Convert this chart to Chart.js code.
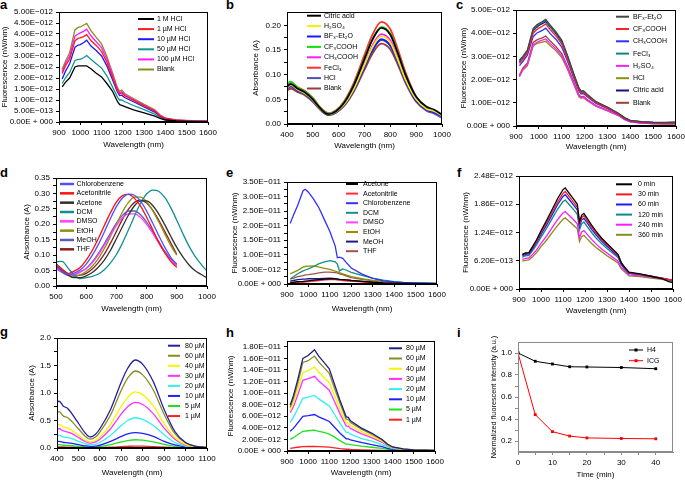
<!DOCTYPE html>
<html><head><meta charset="utf-8">
<script src="https://cdn.jsdelivr.net/npm/chart.js@4.4.1/dist/chart.umd.min.js"></script>
<style>
html,body{margin:0;padding:0;background:#fff}
body{width:685px;height:480px;overflow:hidden;position:relative;font-family:"Liberation Sans",Arial,sans-serif}
canvas{position:absolute}
.lbl{position:absolute;font-weight:bold;font-size:13px;line-height:13px;color:#000}
</style></head><body>
<div class="lbl" style="left:0px;top:-2px">a</div>
<div class="lbl" style="left:226px;top:-2px">b</div>
<div class="lbl" style="left:456px;top:-2px">c</div>
<div class="lbl" style="left:0px;top:166px">d</div>
<div class="lbl" style="left:226px;top:166px">e</div>
<div class="lbl" style="left:457px;top:166px">f</div>
<div class="lbl" style="left:0px;top:325px">g</div>
<div class="lbl" style="left:226px;top:326px">h</div>
<div class="lbl" style="left:457px;top:326px">i</div>
<script>
// ---------- Panel a (fluorescence, unit 1e-12 nW/nm) ----------
const aX = [915,930,950,975,990,1000,1015,1030,1050,1075,1100,1125,1150,1175,1185,1195,1210,1250,1300,1350,1375,1400,1450,1500,1550,1600];
const a1M   = [1.60,1.80,2.00,2.50,2.55,2.55,2.55,2.55,2.42,2.22,2.05,1.75,1.42,0.92,0.79,0.76,0.70,0.55,0.41,0.27,0.16,0.09,0.05,0.03,0.02,0.02];
const a1uM  = [2.20,2.55,2.85,3.70,3.80,3.82,3.88,3.97,3.70,3.48,3.20,2.72,2.08,1.42,1.28,1.32,1.18,0.98,0.73,0.50,0.28,0.16,0.08,0.05,0.04,0.03];
const a10uM = [1.95,2.30,2.65,3.40,3.50,3.52,3.60,3.72,3.45,3.25,3.00,2.55,1.95,1.35,1.20,1.22,1.10,0.92,0.68,0.45,0.25,0.14,0.07,0.04,0.03,0.03];
const a50uM = [1.75,2.00,2.25,2.80,2.85,2.85,2.92,3.02,2.85,2.65,2.45,2.10,1.62,1.12,1.00,1.00,0.92,0.75,0.56,0.36,0.20,0.11,0.06,0.04,0.03,0.02];
const a100uM= [2.30,2.65,3.00,3.90,4.00,4.05,4.12,4.22,3.92,3.65,3.38,2.85,2.18,1.48,1.33,1.38,1.22,1.02,0.76,0.52,0.30,0.17,0.09,0.06,0.05,0.04];
const aBlank= [2.40,2.75,3.15,4.20,4.30,4.32,4.40,4.48,4.15,3.85,3.55,2.98,2.28,1.55,1.40,1.45,1.28,1.07,0.80,0.55,0.32,0.18,0.10,0.07,0.05,0.05];
const aXTicks = [900,1000,1100,1200,1300,1400,1500,1600];
const aYTicks = [0,0.5,1,1.5,2,2.5,3,3.5,4,4.5,5];
const aYLabels = ['0.00E + 000','5.00E\u2212013','1.00E\u2212012','1.50E\u2212012','2.00E\u2212012','2.50E\u2212012','3.00E\u2212012','3.50E\u2212012','4.00E\u2212012','4.50E\u2212012','5.00E\u2212012'];

// ---------- Panel b (absorbance) ----------
const bX = [400,415,440,470,500,530,560,590,620,660,700,730,765,800,830,860,900,940,970,1000];
const bCitric = [0.076,0.081,0.072,0.064,0.050,0.031,0.020,0.026,0.042,0.080,0.132,0.170,0.195,0.181,0.142,0.098,0.055,0.035,0.029,0.019];
const bH2SO4  = [0.074,0.079,0.070,0.062,0.049,0.030,0.020,0.025,0.039,0.073,0.120,0.155,0.178,0.165,0.129,0.089,0.050,0.031,0.026,0.017];
const bBF3    = [0.073,0.077,0.068,0.061,0.048,0.030,0.019,0.024,0.038,0.071,0.116,0.149,0.172,0.159,0.125,0.086,0.047,0.029,0.023,0.015];
const bCF3    = [0.082,0.086,0.074,0.066,0.052,0.032,0.021,0.027,0.043,0.081,0.133,0.171,0.197,0.183,0.143,0.098,0.053,0.031,0.023,0.014];
const bCH3    = [0.078,0.083,0.072,0.064,0.050,0.031,0.020,0.025,0.040,0.075,0.123,0.158,0.182,0.169,0.132,0.091,0.049,0.029,0.022,0.013];
const bFeCl3  = [0.080,0.085,0.075,0.067,0.053,0.033,0.022,0.028,0.045,0.085,0.140,0.180,0.207,0.192,0.150,0.103,0.055,0.032,0.025,0.015];
const bHCl    = [0.072,0.076,0.068,0.060,0.047,0.029,0.019,0.024,0.037,0.070,0.115,0.148,0.170,0.158,0.124,0.085,0.047,0.028,0.022,0.013];
const bBlank  = [0.068,0.072,0.065,0.058,0.045,0.028,0.018,0.023,0.036,0.067,0.110,0.142,0.163,0.151,0.119,0.082,0.045,0.027,0.021,0.012];
const bXTicks = [400,500,600,700,800,900,1000];
const bYTicks = [0,0.025,0.05,0.075,0.1,0.125,0.15,0.175,0.2];
const bYLabels = ['0.00','','0.05','','0.10','','0.15','','0.20'];

// ---------- Panel c (fluorescence, unit 1e-12) ----------
const cX = aX;
const cBF3    = [2.85,3.00,3.28,4.20,4.35,4.42,4.50,4.60,4.35,4.06,3.70,3.05,2.33,1.65,1.50,1.52,1.38,1.05,0.82,0.54,0.36,0.24,0.19,0.16,0.15,0.17];
const cCF3    = [2.70,2.88,3.15,4.00,4.15,4.22,4.30,4.40,4.15,3.88,3.53,2.92,2.22,1.57,1.43,1.45,1.31,1.00,0.77,0.51,0.33,0.22,0.17,0.14,0.13,0.14];
const cCH3    = [2.60,2.78,3.05,3.85,4.00,4.05,4.12,4.22,3.98,3.73,3.40,2.80,2.14,1.51,1.38,1.40,1.27,0.97,0.75,0.50,0.32,0.21,0.16,0.13,0.12,0.13];
const cFeCl3  = [2.80,2.97,3.25,4.15,4.30,4.38,4.46,4.55,4.30,4.02,3.66,3.02,2.30,1.62,1.48,1.50,1.36,1.03,0.80,0.53,0.35,0.23,0.18,0.15,0.14,0.16];
const cH2SO4  = [2.15,2.45,2.65,3.50,3.60,3.65,3.70,3.75,3.55,3.32,3.02,2.50,1.90,1.30,1.22,1.25,1.12,0.86,0.66,0.45,0.28,0.18,0.12,0.10,0.09,0.09];
const cHCl    = [2.12,2.40,2.60,3.45,3.55,3.58,3.62,3.65,3.46,3.24,2.95,2.45,1.85,1.26,1.19,1.22,1.10,0.85,0.65,0.44,0.27,0.18,0.12,0.10,0.09,0.09];
const cCitric = [2.75,2.92,3.20,4.10,4.25,4.33,4.41,4.50,4.26,3.98,3.62,2.98,2.27,1.60,1.46,1.48,1.34,1.02,0.79,0.52,0.34,0.23,0.18,0.15,0.14,0.15];
const cBlank  = [2.20,2.50,2.72,3.60,3.70,3.75,3.80,3.88,3.66,3.42,3.12,2.58,1.96,1.35,1.25,1.28,1.15,0.88,0.68,0.46,0.29,0.19,0.13,0.10,0.09,0.09];
const cXTicks = aXTicks;
const cYTicks = [0,1,2,3,4,5];
const cYLabels = ['0.00E + 000','1.00E\u2212012','2.00E\u2212012','3.00E\u2212012','4.00E\u2212012','5.00E\u2212012'];

// ---------- Panel d (absorbance in solvents) ----------
const dX  = [500,520,540,560,580,600,620,640,660,680,700,720,740,760,780,800,820,840,860,880,900];
const dXL = [500,520,540,560,580,600,620,640,660,680,700,720,740,760,780,800,820,840,860,880,900,920,940,960,980,1000];
const dChloro = [0.062,0.048,0.038,0.042,0.052,0.071,0.099,0.134,0.175,0.218,0.257,0.285,0.298,0.294,0.275,0.243,0.204,0.164,0.126,0.093,0.069];
const dAcnit  = [0.068,0.053,0.040,0.048,0.060,0.084,0.115,0.153,0.196,0.237,0.272,0.293,0.297,0.284,0.259,0.223,0.183,0.143,0.108,0.080,0.060];
const dAceton = [0.065,0.048,0.035,0.027,0.027,0.033,0.044,0.061,0.084,0.115,0.153,0.192,0.230,0.260,0.276,0.276,0.261,0.234,0.199,0.161,0.125,0.094,0.069,0.050,0.038,0.026];
const dDCM    = [0.078,0.080,0.058,0.036,0.024,0.027,0.031,0.039,0.053,0.074,0.102,0.139,0.182,0.227,0.268,0.298,0.311,0.307,0.287,0.254,0.213,0.170,0.130,0.097,0.071,0.048];
const dDMSO   = [0.058,0.045,0.036,0.036,0.045,0.056,0.075,0.101,0.132,0.165,0.196,0.221,0.234,0.234,0.222,0.200,0.171,0.139,0.109,0.083,0.066];
const dEtOH   = [0.070,0.052,0.038,0.033,0.036,0.047,0.064,0.089,0.121,0.160,0.201,0.240,0.271,0.288,0.288,0.273,0.244,0.208,0.169,0.131,0.100];
const dMeOH   = [0.056,0.044,0.035,0.036,0.046,0.057,0.078,0.105,0.137,0.171,0.204,0.229,0.243,0.243,0.231,0.207,0.177,0.144,0.113,0.088,0.072];
const dTHF    = [0.072,0.055,0.040,0.032,0.035,0.041,0.055,0.076,0.103,0.138,0.177,0.216,0.249,0.271,0.278,0.269,0.246,0.214,0.177,0.140,0.102];
const dXTicks = [500,600,700,800,900,1000];
const dYTicks = [0,0.025,0.05,0.075,0.1,0.125,0.15,0.175,0.2,0.225,0.25,0.275,0.3,0.325,0.35];
const dYLabels = ['0.00','','0.05','','0.10','','0.15','','0.20','','0.25','','0.30','','0.35'];

// ---------- Panel e (fluorescence in solvents, unit 1e-11) ----------
const eX = [915,930,950,975,985,1000,1025,1050,1075,1100,1125,1135,1145,1160,1175,1200,1250,1300,1350,1400,1450,1500,1600];
const eAceton = [0.05,0.06,0.08,0.09,0.10,0.11,0.13,0.15,0.17,0.18,0.18,0.17,0.16,0.15,0.14,0.12,0.09,0.06,0.04,0.03,0.02,0.015,0.01];
const eAcnit  = [0.03,0.04,0.05,0.06,0.07,0.08,0.10,0.12,0.14,0.15,0.15,0.14,0.13,0.12,0.11,0.10,0.07,0.05,0.03,0.02,0.015,0.01,0.01];
const eChloro = [2.08,2.36,2.70,3.20,3.25,3.15,2.90,2.60,2.20,1.80,1.30,0.90,0.92,0.88,0.75,0.55,0.34,0.19,0.11,0.07,0.05,0.035,0.02];
const eDCM    = [0.18,0.25,0.35,0.45,0.48,0.52,0.60,0.70,0.76,0.80,0.76,0.68,0.45,0.52,0.48,0.40,0.30,0.20,0.13,0.08,0.05,0.035,0.02];
const eDMSO   = [0.04,0.05,0.06,0.07,0.08,0.09,0.11,0.13,0.15,0.16,0.16,0.15,0.14,0.13,0.12,0.11,0.08,0.05,0.035,0.025,0.015,0.01,0.01];
const eEtOH   = [0.35,0.40,0.47,0.58,0.60,0.61,0.62,0.58,0.54,0.50,0.44,0.42,0.39,0.35,0.31,0.25,0.18,0.12,0.08,0.05,0.035,0.025,0.015];
const eMeOH   = [0.10,0.12,0.15,0.17,0.17,0.18,0.18,0.18,0.19,0.20,0.18,0.17,0.16,0.15,0.14,0.12,0.09,0.06,0.04,0.03,0.02,0.015,0.01];
const eTHF    = [0.17,0.20,0.25,0.29,0.31,0.32,0.35,0.38,0.41,0.41,0.39,0.38,0.35,0.32,0.28,0.22,0.16,0.11,0.07,0.05,0.03,0.02,0.015];
const eXTicks = aXTicks;
const eYTicks = [0,0.25,0.5,0.75,1,1.25,1.5,1.75,2,2.25,2.5,2.75,3,3.25,3.5];
const eYLabels = ['0.00E + 000','','5.00E\u2212012','','1.00E\u2212011','','1.50E\u2212011','','2.00E\u2212011','','2.50E\u2212011','','3.00E\u2212011','','3.50E\u2212011'];

// ---------- Panel f (fluorescence over time, unit 1e-12) ----------
const fX = [915,930,945,960,980,1000,1025,1050,1075,1100,1110,1125,1150,1165,1175,1185,1195,1210,1230,1250,1275,1300,1325,1350,1365,1380,1400,1450,1500,1550,1580,1600];
const f0   = [0.76,0.79,0.80,0.92,1.08,1.28,1.50,1.74,1.98,2.18,2.22,2.12,1.96,1.86,1.48,1.62,1.66,1.55,1.40,1.27,1.12,1.00,0.88,0.76,0.58,0.48,0.37,0.33,0.28,0.23,0.16,0.14];
const f30  = [0.75,0.78,0.79,0.90,1.05,1.24,1.45,1.68,1.91,2.10,2.14,2.05,1.89,1.80,1.43,1.57,1.61,1.50,1.36,1.23,1.09,0.97,0.86,0.74,0.57,0.47,0.36,0.32,0.28,0.24,0.21,0.20];
const f60  = [0.73,0.76,0.77,0.87,1.02,1.20,1.40,1.62,1.85,2.03,2.07,1.98,1.83,1.74,1.38,1.52,1.55,1.45,1.31,1.19,1.05,0.94,0.83,0.72,0.55,0.46,0.35,0.32,0.28,0.24,0.21,0.20];
const f120 = [0.70,0.73,0.74,0.83,0.97,1.14,1.33,1.54,1.75,1.92,1.95,1.87,1.73,1.64,1.30,1.43,1.47,1.37,1.24,1.12,1.00,0.89,0.79,0.69,0.53,0.44,0.34,0.31,0.27,0.23,0.20,0.19];
const f240 = [0.65,0.67,0.68,0.75,0.86,1.00,1.16,1.34,1.52,1.67,1.70,1.63,1.51,1.43,1.13,1.25,1.28,1.20,1.09,0.99,0.88,0.79,0.70,0.61,0.47,0.40,0.31,0.29,0.26,0.22,0.19,0.18];
const f360 = [0.61,0.63,0.64,0.70,0.80,0.93,1.07,1.23,1.39,1.53,1.56,1.50,1.39,1.32,1.04,1.15,1.18,1.10,1.00,0.91,0.82,0.73,0.65,0.57,0.44,0.38,0.29,0.27,0.24,0.21,0.18,0.17];
const fXTicks = aXTicks;
const fYTicks = [0,0.62,1.24,1.86,2.48];
const fYLabels = ['0.00E + 000','6.20E\u2212013','1.24E\u2212012','1.86E\u2212012','2.48E\u2212012'];

// ---------- Panel g (absorbance vs concentration) ----------
const gX = [400,410,430,450,470,500,530,555,580,600,650,700,730,765,800,850,900,950,1000,1050,1100];
const g80 = [0.84,0.85,0.76,0.72,0.62,0.45,0.28,0.20,0.25,0.35,0.70,1.20,1.45,1.60,1.52,1.20,0.70,0.30,0.10,0.03,0.01];
const g60 = [0.65,0.66,0.58,0.55,0.48,0.35,0.22,0.16,0.20,0.29,0.60,1.05,1.27,1.40,1.33,1.05,0.61,0.26,0.09,0.03,0.01];
const g40 = [0.42,0.43,0.38,0.36,0.32,0.23,0.15,0.11,0.14,0.20,0.43,0.76,0.92,1.02,0.97,0.76,0.44,0.19,0.06,0.02,0.01];
const g30 = [0.35,0.35,0.31,0.29,0.26,0.19,0.12,0.09,0.11,0.16,0.35,0.62,0.75,0.83,0.79,0.62,0.36,0.16,0.05,0.02,0.005];
const g20 = [0.23,0.23,0.20,0.19,0.17,0.12,0.08,0.06,0.07,0.10,0.23,0.41,0.50,0.55,0.52,0.41,0.24,0.10,0.035,0.01,0.004];
const g10 = [0.12,0.12,0.10,0.095,0.085,0.06,0.04,0.03,0.035,0.05,0.12,0.21,0.255,0.28,0.265,0.21,0.12,0.055,0.02,0.008,0.003];
const g5  = [0.06,0.06,0.05,0.048,0.042,0.03,0.02,0.015,0.018,0.026,0.06,0.11,0.135,0.15,0.142,0.11,0.065,0.03,0.01,0.004,0.002];
const g1  = [0.02,0.02,0.018,0.017,0.015,0.012,0.008,0.006,0.007,0.009,0.015,0.025,0.031,0.035,0.033,0.026,0.016,0.008,0.004,0.002,0.001];
const gXTicks = [400,500,600,700,800,900,1000,1100];
const gYTicks = [0,0.25,0.5,0.75,1,1.25,1.5,1.75,2];
const gYLabels = ['0.0','','0.5','','1.0','','1.5','','2.0'];

// ---------- Panel h (fluorescence vs concentration, unit 1e-12) ----------
const hX = [915,930,950,975,1000,1030,1050,1075,1100,1125,1150,1180,1190,1200,1250,1300,1350,1375,1400,1450,1500,1600];
const h80 = [7.9,9.5,12.2,16.0,16.5,17.5,16.4,15.3,14.2,11.5,8.8,5.9,5.8,5.2,4.0,3.1,2.0,1.2,0.7,0.35,0.2,0.1];
const h60 = [7.5,9.0,11.5,15.3,15.6,16.4,15.4,14.4,13.4,10.8,8.3,5.5,5.4,4.9,3.8,2.9,1.9,1.1,0.65,0.33,0.2,0.1];
const h40 = [7.0,8.3,10.5,13.6,13.9,14.5,13.6,12.7,11.8,9.6,7.3,4.9,4.8,4.4,3.4,2.6,1.7,1.0,0.6,0.3,0.18,0.09];
const h30 = [6.6,7.6,9.6,12.2,12.5,12.9,12.1,11.3,10.5,8.5,6.5,4.3,4.3,3.9,3.0,2.3,1.5,0.9,0.55,0.28,0.16,0.08];
const h20 = [5.0,5.8,7.2,9.1,9.3,9.6,9.0,8.4,7.8,6.3,4.8,3.2,3.2,2.9,2.2,1.7,1.1,0.7,0.42,0.22,0.12,0.06];
const h10 = [3.4,3.9,4.8,6.0,6.1,6.3,5.9,5.5,5.1,4.1,3.1,2.1,2.1,1.9,1.5,1.1,0.75,0.45,0.3,0.15,0.08,0.04];
const h5  = [2.0,2.3,2.8,3.4,3.5,3.6,3.4,3.2,2.9,2.4,1.8,1.2,1.2,1.1,0.85,0.65,0.45,0.28,0.18,0.1,0.05,0.03];
const h1  = [0.45,0.55,0.65,0.75,0.78,0.8,0.77,0.72,0.66,0.55,0.42,0.3,0.3,0.27,0.2,0.15,0.1,0.07,0.05,0.03,0.02,0.01];
const hXTicks = aXTicks;
const hYTicks = [0,2,4,6,8,10,12,14,16,18];
const hYLabels = ['0.00E + 000','2.00E\u2212012','4.00E\u2212012','6.00E\u2212012','8.00E\u2212012','1.00E\u2212011','1.20E\u2212011','1.40E\u2212011','1.60E\u2212011','1.80E\u2212011'];

// ---------- Panel i (photostability) ----------
const iTime = [0,5,10,15,20,30,40];
const iH4   = [1.0,0.925,0.900,0.875,0.873,0.868,0.857];
const iICG  = [1.0,0.440,0.285,0.245,0.228,0.223,0.220];
const iXTicks = [0,5,10,15,20,25,30,35,40];
const iXLabels = ['0','','10','','20','','30','','40'];
const iYTicks = [0.2,0.3,0.4,0.5,0.6,0.7,0.8,0.9,1.0];
const iYLabels = ['0.2','','0.4','','0.6','','0.8','','1.0'];

// ================= rendering =================
const FONT = '"Liberation Sans", Arial, Helvetica, sans-serif';

function panel(p){
  const yts = p.yTitleSize || 8, xts = p.xTitleSize || 8;
  const cl = Math.floor(p.yTitleX - 8);
  const ct = p.T - 10;
  const cr = p.R + 16;
  const cb = Math.ceil(p.xTitleY + 8);
  const W = p.L - cl, H = cb - p.B;
  const cv = document.createElement('canvas');
  cv.width = cr - cl; cv.height = cb - ct;
  cv.style.left = cl + 'px'; cv.style.top = ct + 'px';
  document.body.appendChild(cv);
  const ax = p.axisColor || '#000';
  const lg = p.legend;
  const plugins = [{
    id:'frame', afterDatasetsDraw(chart){
      const a = chart.chartArea, c = chart.ctx;
      c.save(); c.strokeStyle = ax; c.lineWidth = 1;
      c.strokeRect(Math.round(a.left)+0.5, Math.round(a.top)+0.5, Math.round(a.right-a.left)-1, Math.round(a.bottom-a.top)-1);
      c.restore();
    }
  },{
    id:'titlesAndLegend', afterDraw(chart){
      const c = chart.ctx, a = chart.chartArea;
      c.save();
      c.fillStyle = '#000'; c.textAlign = 'center'; c.textBaseline = 'middle';
      // x axis title
      c.font = xts + 'px ' + FONT;
      c.fillText(p.xTitle, (a.left + a.right)/2, p.xTitleY - ct);
      // y axis title (rotated)
      c.save();
      c.translate(p.yTitleX - cl, (a.top + a.bottom)/2);
      c.rotate(-Math.PI/2);
      c.font = yts + 'px ' + FONT;
      c.fillText(p.yTitle, 0, 0);
      c.restore();
      // legend
      c.font = (lg.size||7) + 'px ' + FONT; c.textAlign = 'left';
      p.series.forEach((s,i)=>{
        const y = lg.y0 + i*lg.dy - ct;
        c.strokeStyle = s.color; c.lineWidth = lg.lw || 2;
        c.beginPath(); c.moveTo(lg.x1 - cl, y); c.lineTo(lg.x2 - cl, y); c.stroke();
        if (p.points){ c.fillStyle = s.color; c.fillRect((lg.x1+lg.x2)/2 - cl - 1.5, y - 1.5, 3, 3); }
        c.fillStyle = '#000';
        c.fillText(s.label, lg.tx - cl, y);
      });
      c.restore();
    }
  }];
  const unit = p.unit || 1;
  new Chart(cv, {
    type:'line',
    data:{datasets: p.series.map(s=>({
      label:s.label,
      data:s.x.map((x,i)=>({x:x, y:s.y[i]*unit})),
      borderColor:s.color, backgroundColor:s.color,
      borderWidth:p.lw || 1.3,
      pointRadius:p.points ? 2 : 0, pointStyle:'rect', pointBorderWidth:0,
      cubicInterpolationMode:p.smooth ? 'monotone' : 'default', tension:0,
      fill:false
    }))},
    options:{
      responsive:false, animation:false, devicePixelRatio:1,
      layout:{padding:{left:0, top:10, right:16, bottom:0}},
      plugins:{legend:{display:false}, tooltip:{enabled:false}},
      scales:{
        x:{type:'linear', min:p.xMin, max:p.xMax,
          afterBuildTicks: sc=>{ sc.ticks = p.xTicks.map(v=>({value:v})); },
          afterFit: sc=>{ sc.height = H; },
          ticks:{autoSkip:false, maxRotation:0, minRotation:0, padding:3, color:'#000',
            font:{family:FONT, size:8}, callback:(v,i)=> p.xLabels ? p.xLabels[i] : String(p.xTicks[i])},
          grid:{display:true, drawOnChartArea:false, drawTicks:true, tickLength:3, color:ax, tickColor:ax},
          border:{display:true, color:ax},
          title:{display:false}
        },
        y:{type:'linear', min:p.yMin*unit, max:p.yMax*unit,
          afterBuildTicks: sc=>{ sc.ticks = p.yTicks.map(v=>({value:v*unit})); },
          afterFit: sc=>{ sc.width = W; },
          ticks:{autoSkip:false, padding:3, color:'#000',
            font:{family:FONT, size:8}, callback:(v,i)=> p.yLabels[i]},
          grid:{display:true, drawOnChartArea:false, drawTicks:true, tickLength:3, color:ax, tickColor:ax},
          border:{display:true, color:ax},
          title:{display:false}
        }
      }
    },
    plugins:plugins
  });
}

const WL = 'Wavelength (nm)', FL = 'Fluorescence (nW/nm)', AB = 'Absorbance (A)';
const UM = '\u00b5M';

panel({L:59,T:12,R:208,B:122, yTitleX:5, xTitleY:145, xMin:900,xMax:1600, xTicks:aXTicks,
  yMin:0,yMax:5, unit:1e-12, yTicks:aYTicks, yLabels:aYLabels, xTitle:WL, yTitle:FL,
  legend:{x1:138,x2:154,tx:157,y0:19,dy:10.1},
  series:[
    {label:'1 M HCl', color:'#000000', x:aX, y:a1M},
    {label:'1 '+UM+' HCl', color:'#ff1a1a', x:aX, y:a1uM},
    {label:'10 '+UM+' HCl', color:'#1a1aff', x:aX, y:a10uM},
    {label:'50 '+UM+' HCl', color:'#129494', x:aX, y:a50uM},
    {label:'100 '+UM+' HCl', color:'#ff1aff', x:aX, y:a100uM},
    {label:'Blank', color:'#8c8c1a', x:aX, y:aBlank}
  ]});

panel({L:287,T:12,R:442,B:124, yTitleX:256, xTitleY:146, xMin:400,xMax:1000, xTicks:bXTicks,
  yMin:0,yMax:0.227, yTicks:bYTicks, yLabels:bYLabels, xTitle:WL, yTitle:AB, smooth:true, lw:1.8,
  legend:{x1:307,x2:321,tx:324,y0:15.7,dy:10.4},
  series:[
    {label:'Citric acid', color:'#000000', x:bX, y:bCitric},
    {label:'H\u2082SO\u2084', color:'#f0f000', x:bX, y:bH2SO4},
    {label:'BF\u2083-Et\u2082O', color:'#1a1aff', x:bX, y:bBF3},
    {label:'CF\u2083COOH', color:'#10e010', x:bX, y:bCF3},
    {label:'CH\u2083COOH', color:'#ff1aff', x:bX, y:bCH3},
    {label:'FeCl\u2083', color:'#ff3030', x:bX, y:bFeCl3},
    {label:'HCl', color:'#5050b0', x:bX, y:bHCl},
    {label:'Blank', color:'#9b3c3c', x:bX, y:bBlank}
  ]});

panel({L:516,T:10,R:676,B:126, yTitleX:463.5, xTitleY:146.7, xMin:900,xMax:1600, xTicks:cXTicks,
  yMin:0,yMax:5, unit:1e-12, yTicks:cYTicks, yLabels:cYLabels, xTitle:WL, yTitle:FL,
  legend:{x1:616,x2:629,tx:633,y0:16.7,dy:12.3},
  series:[
    {label:'BF\u2083-Et\u2082O', color:'#454545', x:cX, y:cBF3},
    {label:'CF\u2083COOH', color:'#ff2020', x:cX, y:cCF3},
    {label:'CH\u2083COOH', color:'#3030ff', x:cX, y:cCH3},
    {label:'FeCl\u2083', color:'#108585', x:cX, y:cFeCl3},
    {label:'H\u2082SO\u2084', color:'#ff20ff', x:cX, y:cH2SO4},
    {label:'HCl', color:'#909010', x:cX, y:cHCl},
    {label:'Citric acid', color:'#10108a', x:cX, y:cCitric},
    {label:'Blank', color:'#a03c3c', x:cX, y:cBlank}
  ]});

panel({L:56,T:178,R:207,B:286, yTitleX:27, xTitleY:309, xMin:500,xMax:1000, xTicks:dXTicks,
  yMin:0,yMax:0.35, yTicks:dYTicks, yLabels:dYLabels, xTitle:WL, yTitle:AB, smooth:true,
  legend:{x1:60,x2:74,tx:76.5,y0:184,dy:9.33,lw:2.5},
  series:[
    {label:'Chlorobenzene', color:'#5050ff', x:dX, y:dChloro},
    {label:'Acetonitrile', color:'#ff1010', x:dX, y:dAcnit},
    {label:'Acetone', color:'#303030', x:dXL, y:dAceton},
    {label:'DCM', color:'#129090', x:dXL, y:dDCM},
    {label:'DMSO', color:'#ff40ff', x:dX, y:dDMSO},
    {label:'EtOH', color:'#909010', x:dX, y:dEtOH},
    {label:'MeOH', color:'#5a5ab8', x:dX, y:dMeOH},
    {label:'THF', color:'#8b2020', x:dX, y:dTHF}
  ]});

panel({L:287,T:182,R:437,B:284, yTitleX:235, xTitleY:308.3, xMin:900,xMax:1600, xTicks:eXTicks,
  yMin:0,yMax:3.5, unit:1e-11, yTicks:eYTicks, yLabels:eYLabels, xTitle:WL, yTitle:FL,
  legend:{x1:346,x2:358,tx:363,y0:184,dy:9.6},
  series:[
    {label:'Acetone', color:'#000000', x:eX, y:eAceton},
    {label:'Acetonitrile', color:'#ff3030', x:eX, y:eAcnit},
    {label:'Chlorobenzene', color:'#3030ff', x:eX, y:eChloro},
    {label:'DCM', color:'#109080', x:eX, y:eDCM},
    {label:'DMSO', color:'#ff40ff', x:eX, y:eDMSO},
    {label:'EtOH', color:'#909000', x:eX, y:eEtOH},
    {label:'MeOH', color:'#1a1a90', x:eX, y:eMeOH},
    {label:'THF', color:'#a05050', x:eX, y:eTHF}
  ]});

panel({L:519,T:176,R:673,B:289, yTitleX:466, xTitleY:310.7, xMin:900,xMax:1600, xTicks:fXTicks,
  yMin:0,yMax:2.48, unit:1e-12, yTicks:fYTicks, yLabels:fYLabels, xTitle:WL, yTitle:FL,
  legend:{x1:616,x2:632,tx:638,y0:184.3,dy:10.1},
  series:[
    {label:'0 min', color:'#000000', x:fX, y:f0},
    {label:'30 min', color:'#ff1a1a', x:fX, y:f30},
    {label:'60 min', color:'#1a1aff', x:fX, y:f60},
    {label:'120 min', color:'#128888', x:fX, y:f120},
    {label:'240 min', color:'#ff1aff', x:fX, y:f240},
    {label:'360 min', color:'#8c8c1a', x:fX, y:f360}
  ]});

panel({L:57,T:338,R:207,B:448, yTitleX:31.7, xTitleY:472.5, xMin:400,xMax:1100, xTicks:gXTicks,
  yMin:0,yMax:2, yTicks:gYTicks, yLabels:gYLabels, xTitle:WL, yTitle:AB, smooth:true,
  legend:{x1:168,x2:180,tx:185,y0:345.7,dy:10.05},
  series:[
    {label:'80 '+UM, color:'#2020a0', x:gX, y:g80},
    {label:'60 '+UM, color:'#8b8b20', x:gX, y:g60},
    {label:'40 '+UM, color:'#f5f500', x:gX, y:g40},
    {label:'30 '+UM, color:'#ff30ff', x:gX, y:g30},
    {label:'20 '+UM, color:'#30f0f0', x:gX, y:g20},
    {label:'10 '+UM, color:'#2020ff', x:gX, y:g10},
    {label:'5 '+UM, color:'#20e020', x:gX, y:g5},
    {label:'1 '+UM, color:'#ff2020', x:gX, y:g1}
  ]});

panel({L:287,T:341,R:435,B:451, yTitleX:231, xTitleY:472.5, xMin:900,xMax:1600, xTicks:hXTicks,
  yMin:0,yMax:19, unit:1e-12, yTicks:hYTicks, yLabels:hYLabels, xTitle:WL, yTitle:FL,
  legend:{x1:389,x2:402,tx:406,y0:348.3,dy:10.2},
  series:[
    {label:'80 '+UM, color:'#202080', x:hX, y:h80},
    {label:'60 '+UM, color:'#8b8b20', x:hX, y:h60},
    {label:'40 '+UM, color:'#f5f500', x:hX, y:h40},
    {label:'30 '+UM, color:'#ff30ff', x:hX, y:h30},
    {label:'20 '+UM, color:'#30f0f0', x:hX, y:h20},
    {label:'10 '+UM, color:'#2020ff', x:hX, y:h10},
    {label:'5 '+UM, color:'#20e020', x:hX, y:h5},
    {label:'1 '+UM, color:'#ff2020', x:hX, y:h1}
  ]});

panel({L:518,T:342,R:673,B:452, yTitleX:494, xTitleY:474.3, yTitleSize:7.3, xMin:0,xMax:45, xTicks:iXTicks, xLabels:iXLabels,
  yMin:0.1,yMax:1.1, yTicks:iYTicks, yLabels:iYLabels, xTitle:'Time (min)', yTitle:'Normalized fluorescent intensity (a.u.)',
  axisColor:'#8a8a8a', points:true, lw:1,
  legend:{x1:629,x2:643,tx:647,y0:350,dy:10.7,lw:1},
  series:[
    {label:'H4', color:'#000000', x:iTime, y:iH4},
    {label:'ICG', color:'#ff0000', x:iTime, y:iICG}
  ]});
</script>
</body></html>
